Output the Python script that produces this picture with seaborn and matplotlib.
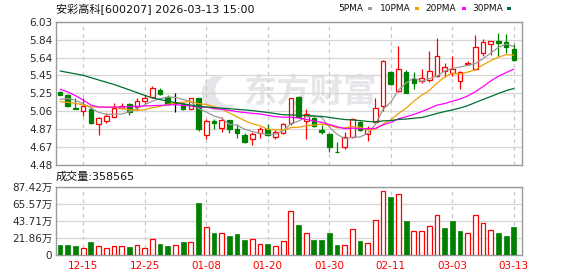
import numpy as np
import pandas as pd
import matplotlib
matplotlib.use("Agg")
import matplotlib.pyplot as plt
import seaborn as sns
from matplotlib.patches import Rectangle, Polygon

W, H = 578, 276
sns.set_style("white")
plt.rcParams['font.family'] = ['DejaVu Sans', 'Noto Sans CJK SC']

# ---------------- data ----------------
dates = ["12-10", "12-11", "12-12", "12-15", "12-16", "12-17", "12-18", "12-19", "12-22", "12-23",
         "12-24", "12-25", "12-26", "12-29", "12-30", "12-31", "01-05", "01-06", "01-07", "01-08",
         "01-09", "01-12", "01-13", "01-14", "01-15", "01-16", "01-19", "01-20", "01-21", "01-22",
         "01-23", "01-26", "01-27", "01-28", "01-29", "01-30", "02-02", "02-03", "02-04", "02-05",
         "02-06", "02-09", "02-10", "02-11", "02-12", "02-13", "02-24", "02-25", "02-26", "02-27",
         "03-02", "03-03", "03-04", "03-05", "03-06", "03-09", "03-10", "03-11", "03-12", "03-13"]

open_ = [5.270, 5.241, 5.093, 5.061, 5.086, 4.927, 4.960, 5.003, 5.093, 5.136,
         5.111, 5.169, 5.212, 5.291, 5.219, 5.150, 5.136, 5.090, 5.201, 4.801,
         4.956, 4.884, 4.967, 4.873, 4.805, 4.758, 4.823, 4.870, 4.779, 4.830,
         4.931, 5.219, 4.956, 4.985, 4.859, 4.812, 4.624, 4.678, 4.787, 4.949,
         4.815, 4.949, 5.118, 5.486, 5.284, 5.486, 5.407, 5.389, 5.400, 5.446,
         5.500, 5.479, 5.392, 5.569, 5.515, 5.695, 5.785, 5.821, 5.807, 5.731]
high = [5.278, 5.252, 5.201, 5.201, 5.111, 5.003, 5.039, 5.147, 5.147, 5.147,
        5.201, 5.237, 5.335, 5.309, 5.237, 5.255, 5.147, 5.205, 5.205, 4.981,
        4.981, 4.996, 4.970, 4.920, 4.830, 4.841, 4.895, 4.924, 4.859, 4.938,
        5.205, 5.226, 5.086, 5.003, 4.913, 4.830, 4.733, 4.841, 4.992, 4.956,
        4.902, 5.201, 5.616, 5.497, 5.767, 5.508, 5.490, 5.515, 5.713, 5.850,
        5.587, 5.659, 5.497, 5.605, 5.886, 5.843, 5.818, 5.911, 5.897, 5.789]
low = [5.232, 5.108, 5.083, 5.010, 4.924, 4.805, 4.938, 4.996, 5.086, 5.024,
       5.075, 5.133, 5.201, 5.234, 5.133, 5.057, 5.075, 5.086, 4.852, 4.758,
       4.866, 4.841, 4.830, 4.772, 4.715, 4.697, 4.776, 4.794, 4.758, 4.815,
       4.915, 4.996, 4.758, 4.888, 4.815, 4.624, 4.617, 4.650, 4.769, 4.848,
       4.743, 4.938, 5.064, 5.345, 5.273, 5.256, 5.302, 5.371, 5.382, 5.436,
       5.436, 5.443, 5.302, 5.560, 5.508, 5.663, 5.670, 5.663, 5.688, 5.605]
close = [5.241, 5.119, 5.087, 5.118, 4.931, 4.992, 5.010, 5.100, 5.122, 5.050,
         5.172, 5.205, 5.309, 5.248, 5.145, 5.150, 5.086, 5.201, 4.873, 4.956,
         4.938, 4.967, 4.866, 4.830, 4.733, 4.815, 4.870, 4.805, 4.837, 4.924,
         5.201, 5.003, 5.028, 4.902, 4.841, 4.678, 4.617, 4.787, 4.974, 4.859,
         4.877, 5.093, 5.609, 5.356, 5.515, 5.263, 5.371, 5.418, 5.497, 5.659,
         5.537, 5.515, 5.490, 5.587, 5.753, 5.807, 5.818, 5.803, 5.760, 5.616]

# volume in 万 shares; 1 = up (red hollow), 0 = down (green)
volume = [12.4, 12.4, 11.1, 9.4, 16.3, 12.0, 9.4, 12.0, 11.1, 9.9,
          13.3, 9.4, 21.0, 13.7, 11.1, 13.3, 16.3, 17.1, 66.4, 35.1,
          27.9, 28.7, 24.0, 26.6, 18.9, 21.0, 14.6, 13.7, 12.0, 18.4,
          55.7, 38.1, 28.7, 18.9, 18.9, 27.9, 12.4, 13.3, 32.6, 17.6,
          15.9, 44.1, 81.4, 74.1, 77.6, 43.3, 30.0, 30.0, 36.4, 50.6,
          34.3, 43.3, 30.4, 28.7, 50.6, 40.3, 31.3, 27.9, 24.0, 35.8565]
vol_up = [0, 0, 0, 1, 0, 1, 1, 1, 1, 0, 1, 1, 1, 0, 0, 1, 0, 1, 0, 1,
          0, 1, 0, 0, 0, 1, 1, 0, 1, 1, 1, 0, 1, 0, 0, 0, 0, 1, 1, 0,
          1, 1, 1, 0, 1, 0, 1, 1, 1, 1, 0, 0, 0, 1, 1, 1, 1, 0, 0, 0]

ma5_head = [5.19, 5.20, 5.18, 5.14]
ma10_head = [5.165, 5.158, 5.147, 5.129, 5.111, 5.107, 5.107, 5.104, 5.093]
ma20_head = [5.299, 5.270, 5.230, 5.183, 5.129, 5.107, 5.104, 5.107, 5.107, 5.111,
             5.115, 5.118, 5.122, 5.125, 5.129, 5.133, 5.125, 5.118, 5.107]
ma30_head = [5.497, 5.481, 5.466, 5.450, 5.425, 5.400, 5.375, 5.351, 5.322, 5.293,
             5.263, 5.233, 5.206, 5.188, 5.170, 5.155, 5.142, 5.128, 5.113, 5.108,
             5.101, 5.095, 5.089, 5.082, 5.076, 5.069, 5.058, 5.048, 5.036]

price_ticks = [4.48, 4.67375, 4.8675, 5.06125, 5.255, 5.44875, 5.6425, 5.83625, 6.03]
price_labels = ["4.48", "4.67", "4.87", "5.06", "5.25", "5.45", "5.64", "5.84", "6.03"]
vol_ticks = [0, 21.855, 43.71, 65.565, 87.42]
vol_labels = ["0", "21.86万", "43.71万", "65.57万", "87.42万"]
date_ticks = ["12-15", "12-25", "01-08", "01-20", "01-30", "02-11", "03-03", "03-13"]

title = "安彩高科[600207] 2026-03-13 15:00"
vol_title = "成交量:358565"
ma_names = ["5PMA", "10PMA", "20PMA", "30PMA"]

# ---------------- styles ----------------
RED = "#ff0000"
GREEN = "#008000"
MA_COLORS = {"5PMA": "#9a9a9a", "10PMA": "#f0a000", "20PMA": "#ff00ff", "30PMA": "#006e30"}
GRID = "#d6d6d6"
SPINE = "#9a9a9a"
TXT = "#2a2a2a"

n = len(close)
x = np.arange(n)
cs = pd.Series(close)


def ma(win, head):
    m = cs.rolling(win).mean().to_numpy()
    m[:win - 1] = head
    return m


ma_df = pd.concat([
    pd.DataFrame({"x": x, "v": ma(5, ma5_head), "ma": "5PMA"}),
    pd.DataFrame({"x": x, "v": ma(10, ma10_head), "ma": "10PMA"}),
    pd.DataFrame({"x": x, "v": ma(20, ma20_head), "ma": "20PMA"}),
    pd.DataFrame({"x": x, "v": ma(30, ma30_head), "ma": "30PMA"}),
])

fig = plt.figure(figsize=(W / 100, H / 100), dpi=100)
L, R = 55.7, 522.0
ax = fig.add_axes([L / W, 1 - 165 / H, (R - L) / W, (165 - 21.7) / H])
axv = fig.add_axes([L / W, 1 - 255 / H, (R - L) / W, (255 - 186.5) / H])

xlim = (-0.57, 60.06)
date_pos = [dates.index(d) for d in date_ticks]

for a in (ax, axv):
    a.set_xlim(*xlim)
    a.set_facecolor("white")
    for s in a.spines.values():
        s.set_color(SPINE)
        s.set_linewidth(1.0)
    a.set_axisbelow(True)
    a.set_xticks(date_pos)
    a.grid(axis="y", color=GRID, lw=0.9, ls="-")
    a.grid(axis="x", color="#c8c8c8", lw=0.9, ls=(0, (3, 3)))
    a.tick_params(length=0, labelsize=7.5, colors=TXT, pad=2.5)

# watermark
ax.text(0.545, 0.505, "东方财富", transform=ax.transAxes, fontsize=24, color="#e6e6ea",
        ha="center", va="center", family=["Noto Sans CJK SC"], fontweight="bold", zorder=0.1)
t = np.linspace(np.radians(110), np.radians(290), 40)
outer = np.c_[0.355 + 0.042 * np.cos(t), 0.50 + 0.13 * np.sin(t)]
inner = np.c_[0.372 + 0.030 * np.cos(t[::-1]), 0.52 + 0.10 * np.sin(t[::-1])]
ax.add_patch(Polygon(np.vstack([outer, inner]), closed=True, transform=ax.transAxes,
                     facecolor="#e6e6ea", edgecolor="none", zorder=0.1))

# candles
bw = 0.6
lw = 0.9
for i in range(n):
    o, h, l, c = open_[i], high[i], low[i], close[i]
    if c > o:
        ax.vlines(i, c, h, color=RED, lw=lw, zorder=3)
        ax.vlines(i, l, o, color=RED, lw=lw, zorder=3)
        ax.add_patch(Rectangle((i - bw / 2, o), bw, c - o, facecolor="white",
                               edgecolor=RED, lw=lw, zorder=3))
    elif c < o:
        ax.vlines(i, l, h, color=GREEN, lw=lw, zorder=3)
        ax.add_patch(Rectangle((i - bw / 2, c), bw, o - c, facecolor=GREEN,
                               edgecolor=GREEN, lw=lw, zorder=3))
    else:
        ax.vlines(i, l, h, color="black", lw=lw, zorder=3)
        ax.hlines(c, i - bw / 2, i + bw / 2, color="black", lw=lw, zorder=3)

sns.lineplot(data=ma_df, x="x", y="v", hue="ma", palette=MA_COLORS, ax=ax,
             lw=0.9, legend=False, zorder=4)
ax.set_xlabel("")
ax.set_ylabel("")
ax.set_ylim(4.48, 6.03)
ax.set_yticks(price_ticks)
ax.set_yticklabels(price_labels)
ax.set_xticklabels([])
ax.set_xlim(*xlim)

# volume
for i in range(n):
    if vol_up[i]:
        axv.add_patch(Rectangle((i - 0.31, 0), 0.62, volume[i], facecolor="white",
                                edgecolor=RED, lw=lw, zorder=3))
    else:
        axv.add_patch(Rectangle((i - 0.31, 0), 0.62, volume[i], facecolor=GREEN,
                                edgecolor=GREEN, lw=0.5, zorder=3))
axv.set_ylim(0, 87.42)
axv.set_yticks(vol_ticks)
axv.set_yticklabels(vol_labels)
axv.set_xticklabels(date_ticks)
axv.tick_params(axis="x", colors=RED, pad=4)
axv.set_xlim(*xlim)

# header texts
fig.text(55.5 / W, 1 - 9.5 / H, title, fontsize=8, color="#111111", va="center", ha="left")
fig.text(56 / W, 1 - 177 / H, vol_title, fontsize=8, color="#111111", va="center", ha="left")

leg_x = [338, 379.7, 425.7, 472]
sq_x = [367.5, 414.7, 461.5, 506.7]
for name, tx, sx in zip(ma_names, leg_x, sq_x):
    fig.text(tx / W, 1 - 8.5 / H, name, fontsize=6.5, color="#111111", va="center", ha="left")
    fig.patches.append(Rectangle((sx / W, 1 - 10 / H), 4.5 / W, 3 / H, transform=fig.transFigure,
                                 facecolor=MA_COLORS[name], edgecolor="none", figure=fig))

fig.savefig("out.png", dpi=100)
